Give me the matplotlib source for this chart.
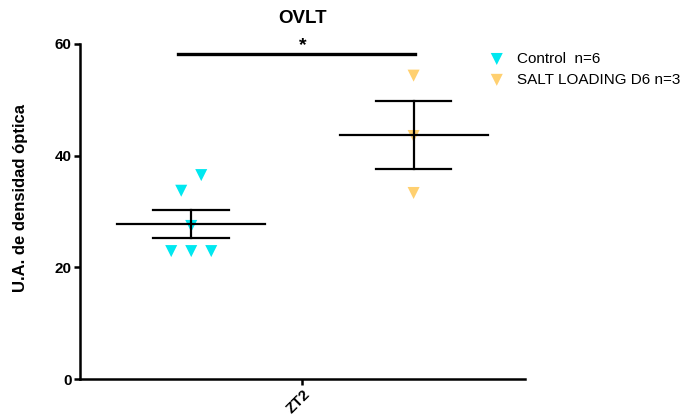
import matplotlib.pyplot as plt
import numpy as np

plt.rcParams['font.family'] = ['Liberation Sans', 'DejaVu Sans']

# optical density per animal, ZT2
control = [36.5, 33.7, 27.4, 22.9, 22.9, 22.9]
control_dx = [0.045, -0.045, 0.0, -0.09, 0.0, 0.09]
salt = [54.3, 43.5, 33.3]
salt_dx = [0.0, 0.0, 0.0]
group_x = [-0.5, 0.5]
labels = ['Control  n=6', 'SALT LOADING D6 n=3']
colors = ['#00E8F0', '#FFD070']

fig = plt.figure(figsize=(6.96, 4.17), dpi=100)
ax = fig.add_axes([0.115, 0.091, 0.639, 0.804])

for vals, dx, x0, lab, col in zip([control, salt], [control_dx, salt_dx], group_x, labels, colors):
    vals = np.array(vals)
    ax.scatter(x0 + np.array(dx), vals, marker='v', s=75, color=col, edgecolors='none',
               label=lab, zorder=2)
    m = vals.mean()
    sem = vals.std(ddof=1) / np.sqrt(len(vals))
    ax.plot([x0 - 0.333, x0 + 0.333], [m, m], color='black', lw=1.6, zorder=3)
    ax.plot([x0 - 0.17, x0 + 0.17], [m + sem, m + sem], color='black', lw=1.6, zorder=3)
    ax.plot([x0 - 0.17, x0 + 0.17], [m - sem, m - sem], color='black', lw=1.6, zorder=3)
    ax.plot([x0, x0], [m - sem, m + sem], color='black', lw=1.6, zorder=3)

# significance bar
ax.plot([-0.56, 0.505], [58.2, 58.2], color='black', lw=2.4, clip_on=False)
ax.text(0.0, 58.9, '*', ha='center', va='baseline', fontsize=14, fontweight='bold')
ax.text(0.5, 1.0627, 'OVLT', transform=ax.transAxes, ha='center', va='baseline',
        fontsize=13.5, fontweight='bold')

ax.set_xlim(-1.0, 1.0)
ax.set_ylim(0, 60)
ax.set_yticks([0, 20, 40, 60])
ax.set_xticks([0])
ax.set_xticklabels(['ZT2'], rotation=45, ha='right', rotation_mode='anchor')
for s in ['top', 'right']:
    ax.spines[s].set_visible(False)
for s in ['left', 'bottom']:
    ax.spines[s].set_linewidth(1.8)
ax.tick_params(width=1.8, length=4, labelsize=11, pad=2)
for t in ax.get_xticklabels() + ax.get_yticklabels():
    t.set_fontweight('bold')
ax.set_ylabel('U.A. de densidad óptica', fontsize=12, fontweight='bold')
ax.yaxis.set_label_coords(-0.118, 0.539)

ax.legend(loc='upper left', bbox_to_anchor=(0.683, 0.89), bbox_transform=fig.transFigure,
          frameon=False, fontsize=11, handletextpad=0.3, borderaxespad=0, labelspacing=0.45)

fig.savefig('out.png', dpi=100)
